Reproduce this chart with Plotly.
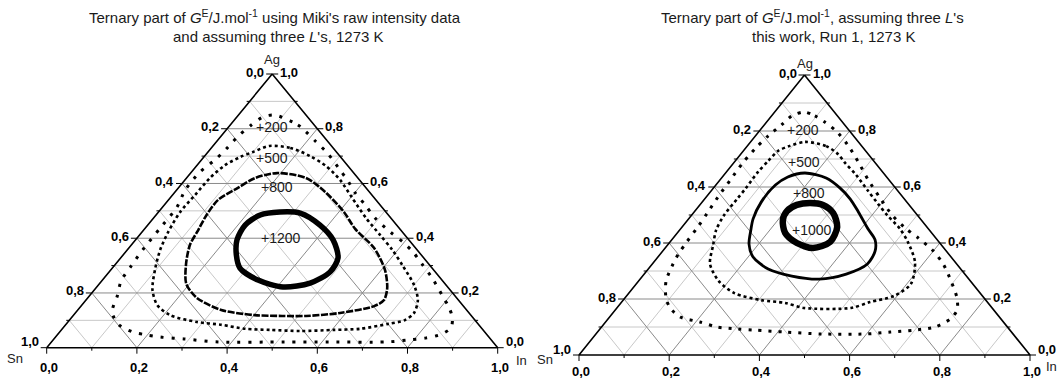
import plotly.graph_objects as go

W, H = 1059, 381

# ------------------------------------------------------------------
# DATA: contour compositions (mole fractions)
# x_Ag (top vertex), x_In (bottom-right vertex); x_Sn = 1 - x_Ag - x_In
# ------------------------------------------------------------------
left_levels = ["+200", "+500", "+800", "+1200"]
right_levels = ["+200", "+500", "+800", "+1000"]

# Left panel: Miki's raw intensity data, three L's
L200_Ag = [0.850, 0.814, 0.792, 0.755, 0.708, 0.650, 0.613, 0.565, 0.521, 0.474, 0.423, 0.386, 0.350, 0.306,
           0.255, 0.193, 0.145, 0.109, 0.073, 0.050, 0.035, 0.028, 0.021, 0.021, 0.021, 0.021, 0.032, 0.039,
           0.047, 0.057, 0.084, 0.130, 0.189, 0.244, 0.298, 0.361, 0.437, 0.514, 0.576, 0.642, 0.686, 0.726,
           0.773, 0.810, 0.843]
L200_In = [0.081, 0.150, 0.177, 0.218, 0.270, 0.325, 0.360, 0.402, 0.446, 0.491, 0.550, 0.597, 0.637, 0.679,
           0.727, 0.780, 0.820, 0.845, 0.860, 0.851, 0.822, 0.787, 0.742, 0.618, 0.518, 0.370, 0.288, 0.232,
           0.197, 0.163, 0.118, 0.080, 0.062, 0.043, 0.038, 0.034, 0.033, 0.032, 0.019, 0.019, 0.030, 0.035,
           0.038, 0.046, 0.058]

L500_Ag = [0.737, 0.730, 0.700, 0.664, 0.613, 0.547, 0.474, 0.412, 0.357, 0.298, 0.229, 0.174, 0.127, 0.101,
           0.087, 0.069, 0.065, 0.061, 0.065, 0.069, 0.084, 0.094, 0.119, 0.156, 0.211, 0.284, 0.357, 0.423,
           0.496, 0.558, 0.620, 0.667, 0.697, 0.715]
L500_In = [0.125, 0.175, 0.234, 0.287, 0.344, 0.404, 0.471, 0.533, 0.588, 0.641, 0.700, 0.736, 0.751, 0.744,
           0.714, 0.660, 0.603, 0.532, 0.463, 0.406, 0.344, 0.286, 0.214, 0.167, 0.129, 0.098, 0.073, 0.058,
           0.048, 0.050, 0.052, 0.062, 0.081, 0.100]

L800_Ag = [0.638, 0.620, 0.569, 0.496, 0.434, 0.364, 0.284, 0.218, 0.174, 0.152, 0.127, 0.116, 0.116, 0.119,
           0.138, 0.182, 0.233, 0.306, 0.375, 0.430, 0.485, 0.540, 0.584, 0.620]
L800_In = [0.192, 0.265, 0.333, 0.411, 0.467, 0.544, 0.608, 0.646, 0.661, 0.650, 0.587, 0.517, 0.464, 0.402,
           0.318, 0.242, 0.193, 0.156, 0.130, 0.121, 0.112, 0.110, 0.132, 0.152]

L1200_Ag = [0.496, 0.492, 0.448, 0.394, 0.328, 0.277, 0.236, 0.222, 0.247, 0.291, 0.339, 0.394, 0.448, 0.485]
L1200_In = [0.269, 0.316, 0.382, 0.438, 0.482, 0.490, 0.466, 0.413, 0.345, 0.283, 0.251, 0.225, 0.216, 0.231]

# Right panel: this work, Run 1
R200_Ag = [0.868, 0.854, 0.832, 0.800, 0.750, 0.689, 0.625, 0.561, 0.500, 0.454, 0.418, 0.375, 0.325, 0.264,
           0.204, 0.161, 0.129, 0.100, 0.089, 0.082, 0.075, 0.075, 0.082, 0.089, 0.093, 0.100, 0.118, 0.136,
           0.168, 0.204, 0.264, 0.325, 0.361, 0.404, 0.454, 0.507, 0.564, 0.625, 0.682, 0.736, 0.782, 0.821,
           0.854]
R200_In = [0.065, 0.096, 0.129, 0.170, 0.221, 0.275, 0.329, 0.387, 0.444, 0.496, 0.543, 0.596, 0.645, 0.693,
           0.736, 0.758, 0.759, 0.739, 0.699, 0.649, 0.597, 0.502, 0.416, 0.344, 0.304, 0.256, 0.209, 0.156,
           0.118, 0.091, 0.061, 0.046, 0.040, 0.037, 0.035, 0.031, 0.026, 0.023, 0.020, 0.022, 0.028, 0.038,
           0.045]

R500_Ag = [0.761, 0.746, 0.718, 0.686, 0.643, 0.589, 0.539, 0.500, 0.450, 0.404, 0.332, 0.254, 0.211, 0.189,
           0.168, 0.168, 0.186, 0.196, 0.221, 0.264, 0.325, 0.393, 0.446, 0.500, 0.557, 0.596, 0.654, 0.693,
           0.729, 0.746]
R500_In = [0.121, 0.175, 0.215, 0.247, 0.293, 0.345, 0.394, 0.433, 0.487, 0.527, 0.579, 0.609, 0.593, 0.551,
           0.519, 0.415, 0.364, 0.306, 0.234, 0.178, 0.128, 0.101, 0.081, 0.072, 0.072, 0.072, 0.070, 0.073,
           0.077, 0.093]

R800_Ag = [0.650, 0.632, 0.596, 0.557, 0.511, 0.450, 0.411, 0.371, 0.325, 0.289, 0.271, 0.282, 0.307, 0.350,
           0.396, 0.446, 0.486, 0.546, 0.607, 0.636]
R800_In = [0.176, 0.232, 0.281, 0.323, 0.364, 0.416, 0.451, 0.471, 0.477, 0.448, 0.397, 0.331, 0.266, 0.211,
           0.179, 0.158, 0.143, 0.131, 0.132, 0.145]

R1000_Ag = [0.543, 0.536, 0.507, 0.457, 0.404, 0.382, 0.400, 0.436, 0.482, 0.514, 0.536]
R1000_In = [0.241, 0.273, 0.310, 0.344, 0.355, 0.328, 0.283, 0.239, 0.211, 0.204, 0.215]

# Axis ticks
major_ticks = [0.0, 0.2, 0.4, 0.6, 0.8, 1.0]
tick_text = ["0,0", "0,2", "0,4", "0,6", "0,8", "1,0"]
minor_ticks = [0.1, 0.3, 0.5, 0.7, 0.9]
grid_vals = [0.1, 0.2, 0.3, 0.4, 0.5, 0.6, 0.7, 0.8, 0.9]

titles_left = ["Ternary part of <i>G</i><sup>E</sup>/J.mol<sup>-1</sup> using Miki's raw intensity data",
               "and assuming three <i>L</i>'s, 1273 K"]
titles_right = ["Ternary part of <i>G</i><sup>E</sup>/J.mol<sup>-1</sup>, assuming three <i>L</i>'s",
                "this work, Run 1, 1273 K"]
corner_names = ["Ag", "Sn", "In"]

# ------------------------------------------------------------------
FONT = "Arial, 'Liberation Sans', sans-serif"


def proj(ag, inn):
    """ternary composition -> cartesian (X along Sn->In, Y = x_Ag)"""
    return inn + ag / 2.0, ag


def proj_list(ag_list, in_list, close=True):
    xs, ys = [], []
    for a, c in zip(ag_list, in_list):
        x, y = proj(a, c)
        xs.append(x)
        ys.append(y)
    if close:
        xs.append(xs[0])
        ys.append(ys[0])
    return xs, ys


fig = go.Figure()
annotations = []

panels = [
    dict(px0=46.7, px1=497.7, ptop=74.0, pbot=347.7, xa="x", ya="y",
         levels=left_levels,
         curves=[(L200_Ag, L200_In), (L500_Ag, L500_In), (L800_Ag, L800_In), (L1200_Ag, L1200_In)],
         label_pos=[(0.499, 0.807), (0.500, 0.694), (0.511, 0.588), (0.519, 0.402)],
         titles=titles_left, title_x=[275, 278],
         sn_shift=(-22, -11), in_shift=(16, -13), ag_shift=5, bot_shift=-10,
         styles=[dict(width=3, dash="3px,8px"), dict(width=2.6, dash="3px,3px"),
                 dict(width=2.6, dash="7px,1.5px"), dict(width=5.5, dash="solid")]),
    dict(px0=579.0, px1=1030.0, ptop=75.0, pbot=355.0, xa="x2", ya="y2",
         levels=right_levels,
         curves=[(R200_Ag, R200_In), (R500_Ag, R500_In), (R800_Ag, R800_In), (R1000_Ag, R1000_In)],
         label_pos=[(0.497, 0.804), (0.498, 0.689), (0.511, 0.580), (0.516, 0.446)],
         titles=titles_right, title_x=[812, 833],
         sn_shift=(-24, -4), in_shift=(14, -11), ag_shift=2, bot_shift=-7,
         styles=[dict(width=3, dash="3px,7px"), dict(width=2.6, dash="3px,3px"),
                 dict(width=2.8, dash="solid"), dict(width=6.5, dash="solid")]),
]

layout_axes = {}
PAD = 14
for i, p in enumerate(panels):
    sx = p["px1"] - p["px0"]
    sy = p["pbot"] - p["ptop"]
    kx, ky = 1.0 / sx, 1.0 / sy
    xname = "xaxis" if i == 0 else "xaxis2"
    yname = "yaxis" if i == 0 else "yaxis2"
    layout_axes[xname] = dict(range=[-PAD * kx, 1 + PAD * kx],
                              domain=[(p["px0"] - PAD) / W, (p["px1"] + PAD) / W],
                              visible=False, fixedrange=True, anchor=p["ya"])
    layout_axes[yname] = dict(range=[-PAD * ky, 1 + PAD * ky],
                              domain=[(H - p["pbot"] - PAD) / H, (H - p["ptop"] + PAD) / H],
                              visible=False, fixedrange=True, anchor=p["xa"])

    # grid lines
    for dark in (False, True):
        gx, gy = [], []
        for k, v in enumerate(grid_vals):
            is_major = (k % 2 == 1)
            if is_major != dark:
                continue
            for (a1, c1), (a2, c2) in [((v, 0.0), (v, 1 - v)),        # Ag = v
                                       ((0.0, v), (1 - v, v)),        # In = v
                                       ((0.0, 1 - v), (1 - v, 0.0))]: # Sn = v
                x1, y1 = proj(a1, c1)
                x2, y2 = proj(a2, c2)
                gx += [x1, x2, None]
                gy += [y1, y2, None]
        fig.add_trace(go.Scatter(x=gx, y=gy, mode="lines", xaxis=p["xa"], yaxis=p["ya"],
                                 line=dict(color="#8a8a8a" if dark else "#c8c8c8", width=1),
                                 hoverinfo="skip", showlegend=False))

    # ticks
    tx, ty = [], []
    for vals, L in ((major_ticks, 6), (minor_ticks, 3)):
        for v in vals:
            a = 1 - v
            x, y = proj(a, 0.0)
            tx += [x, x - L * kx, None]
            ty += [y, y, None]
            x, y = proj(v, 1 - v)
            tx += [x, x + L * kx, None]
            ty += [y, y, None]
            x, y = proj(0.0, v)
            tx += [x, x, None]
            ty += [y, y - L * ky, None]
    fig.add_trace(go.Scatter(x=tx, y=ty, mode="lines", xaxis=p["xa"], yaxis=p["ya"],
                             line=dict(color="black", width=1), hoverinfo="skip", showlegend=False))

    # frame
    fx, fy = proj_list([1.0, 0.0, 0.0], [0.0, 0.0, 1.0])
    fig.add_trace(go.Scatter(x=fx, y=fy, mode="lines", xaxis=p["xa"], yaxis=p["ya"],
                             line=dict(color="black", width=1.6), hoverinfo="skip", showlegend=False))

    # contours
    for (ag, inn), lev, st in zip(p["curves"], p["levels"], p["styles"]):
        cx, cy = proj_list(ag, inn)
        fig.add_trace(go.Scatter(x=cx, y=cy, mode="lines", xaxis=p["xa"], yaxis=p["ya"], name=lev,
                                 line=dict(color="black", width=st["width"], dash=st["dash"],
                                           shape="spline", smoothing=0.8),
                                 showlegend=False))

    # contour labels
    for lev, (lx, ly) in zip(p["levels"], p["label_pos"]):
        annotations.append(dict(x=lx, y=ly, xref=p["xa"], yref=p["ya"], text=lev, showarrow=False,
                                font=dict(family=FONT, size=14, color="#1a1a1a")))

    # tick labels
    tf = dict(family=FONT, size=13, color="black", weight="bold")
    for v, t in zip(major_ticks, tick_text):
        x, y = proj(1 - v, 0.0)
        annotations.append(dict(x=x, y=y, xref=p["xa"], yref=p["ya"], text=t, showarrow=False,
                                xanchor="right", yanchor="middle", xshift=-6,
                                yshift=6 if v == 1.0 else 2, font=tf))
        x, y = proj(v, 1 - v)
        annotations.append(dict(x=x, y=y, xref=p["xa"], yref=p["ya"], text=t, showarrow=False,
                                xanchor="left", yanchor="middle", xshift=6,
                                yshift=6 if v == 0.0 else 2, font=tf))
        x, y = proj(0.0, v)
        annotations.append(dict(x=x, y=y, xref=p["xa"], yref=p["ya"], text=t, showarrow=False,
                                xanchor="center", yanchor="top", yshift=p["bot_shift"], xshift=2, font=tf))

    # corner names
    nf = dict(family=FONT, size=13, color="#222")
    x, y = proj(1.0, 0.0)
    annotations.append(dict(x=x, y=y, xref=p["xa"], yref=p["ya"], text=corner_names[0], showarrow=False,
                            xanchor="center", yanchor="bottom", yshift=p["ag_shift"], font=nf))
    x, y = proj(0.0, 0.0)
    annotations.append(dict(x=x, y=y, xref=p["xa"], yref=p["ya"], text=corner_names[1], showarrow=False,
                            xanchor="right", yanchor="middle", xshift=p["sn_shift"][0],
                            yshift=p["sn_shift"][1], font=nf))
    x, y = proj(0.0, 1.0)
    annotations.append(dict(x=x, y=y, xref=p["xa"], yref=p["ya"], text=corner_names[2], showarrow=False,
                            xanchor="left", yanchor="middle", xshift=p["in_shift"][0],
                            yshift=p["in_shift"][1], font=nf))

    # titles
    for line, tx_px, ty_px in zip(p["titles"], p["title_x"], [16, 36]):
        annotations.append(dict(x=tx_px / W, y=1 - ty_px / H, xref="paper", yref="paper", text=line,
                                showarrow=False, xanchor="center", yanchor="middle",
                                font=dict(family=FONT, size=15, color="#1a1a1a")))

fig.update_layout(width=W, height=H, margin=dict(l=0, r=0, t=0, b=0),
                  paper_bgcolor="white", plot_bgcolor="white",
                  annotations=annotations, showlegend=False, **layout_axes)

fig.write_html("out.html", config={"displayModeBar": False},
               post_script="document.body.style.margin='0px';document.body.style.overflow='hidden';")
